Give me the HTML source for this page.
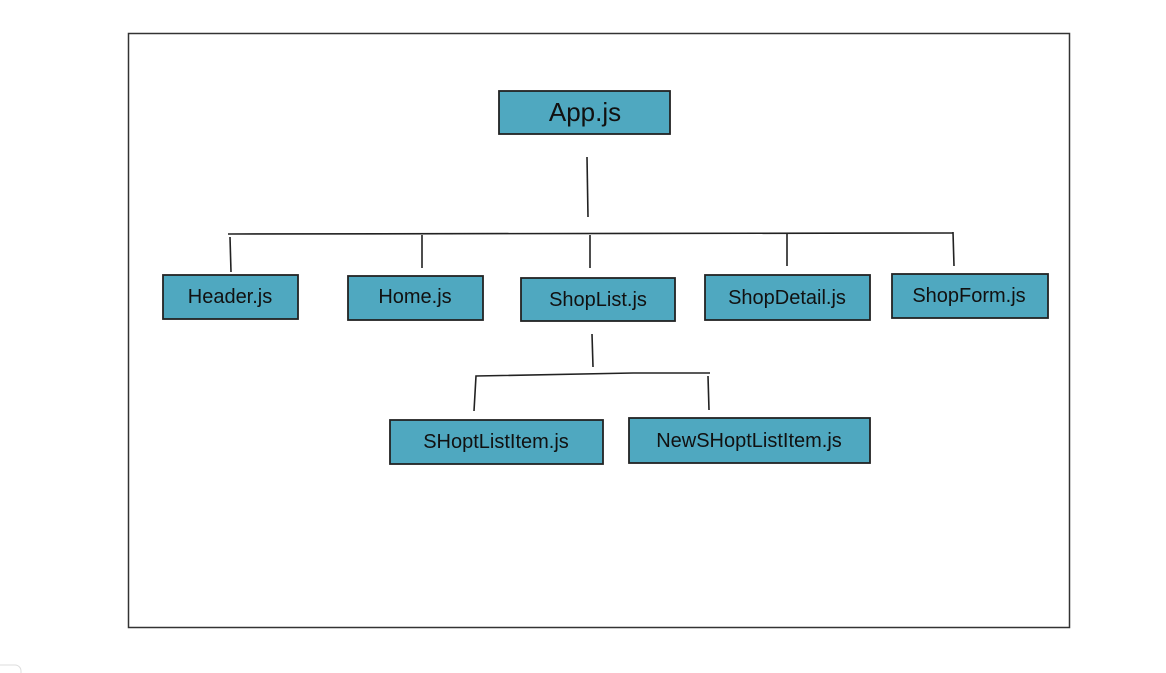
<!DOCTYPE html>
<html><head><meta charset="utf-8"><style>
html,body{margin:0;padding:0;background:#fff;width:1166px;height:673px;overflow:hidden}
svg{display:block}
text{font-family:"Comic Sans MS","Liberation Sans",sans-serif;fill:#111;text-anchor:middle;dominant-baseline:central}
</style></head><body>
<svg width="1166" height="673" viewBox="0 0 1166 673">
<rect x="128.5" y="33.5" width="941" height="594" fill="#fff" stroke="#333" stroke-width="1.5"/>
<rect x="-10" y="665" width="31" height="30" rx="6" fill="none" stroke="#ddd" stroke-width="1"/>
<g fill="#4fa8c0" stroke="#222" stroke-width="1.8">
<rect x="499" y="91" width="171" height="43"/>
<rect x="163" y="275" width="135" height="44"/>
<rect x="348" y="276" width="135" height="44"/>
<rect x="521" y="278" width="154" height="43"/>
<rect x="705" y="275" width="165" height="45"/>
<rect x="892" y="274" width="156" height="44"/>
<rect x="390" y="420" width="213" height="44"/>
<rect x="629" y="418" width="241" height="45"/>
</g>
<g stroke="#222" stroke-width="1.6" fill="none">
<line x1="587" y1="157" x2="588" y2="217"/>
<line x1="228" y1="234" x2="953" y2="233"/>
<line x1="230" y1="237" x2="231" y2="272"/>
<line x1="422" y1="235" x2="422" y2="268"/>
<line x1="590" y1="235" x2="590" y2="268"/>
<line x1="787" y1="233" x2="787" y2="266"/>
<line x1="953" y1="232" x2="954" y2="266"/>
<line x1="592" y1="334" x2="593" y2="367"/>
<polyline points="474,411 476,376 633,373 710,373"/>
<line x1="708" y1="376" x2="709" y2="410"/>
</g>
<text x="585" y="112" font-size="26">App.js</text>
<text x="230" y="297" font-size="20">Header.js</text>
<text x="415" y="297" font-size="20">Home.js</text>
<text x="598" y="300" font-size="20">ShopList.js</text>
<text x="787" y="298" font-size="20">ShopDetail.js</text>
<text x="969" y="296" font-size="20">ShopForm.js</text>
<text x="496" y="442" font-size="20">SHoptListItem.js</text>
<text x="749" y="441" font-size="20">NewSHoptListItem.js</text>
</svg>
</body></html>
